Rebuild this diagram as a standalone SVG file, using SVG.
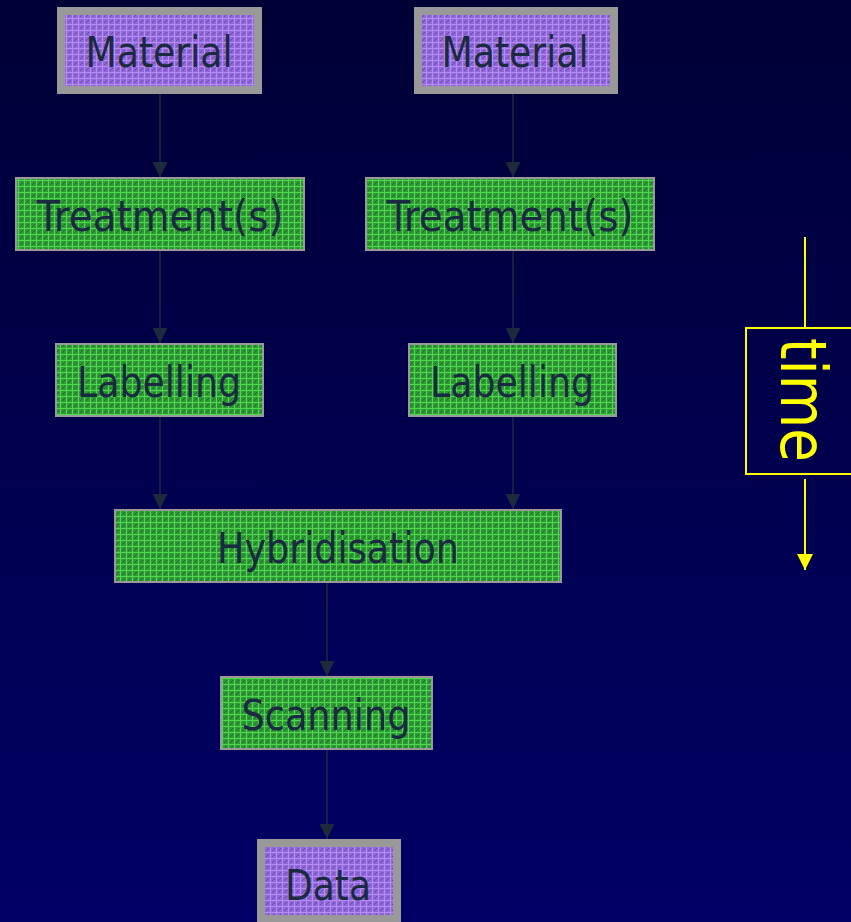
<svg xmlns="http://www.w3.org/2000/svg" width="851" height="922" viewBox="0 0 851 922">
<defs>
<linearGradient id="bg" x1="0" y1="0" x2="0" y2="1">
<stop offset="0" stop-color="#000036"/>
<stop offset="1" stop-color="#000066"/>
</linearGradient>
<pattern id="green" width="6" height="6" patternUnits="userSpaceOnUse">
<rect width="6" height="6" fill="#2f9a36"/>
<rect x="0" y="0" width="6" height="1" fill="#4fd84f"/>
<rect x="0" y="0" width="1" height="6" fill="#4fd84f"/>
<rect x="3" y="3" width="1" height="1" fill="#1f6a2a"/>
<rect x="2" y="4" width="1" height="1" fill="#1f6a2a"/>
<rect x="4" y="2" width="1" height="1" fill="#1f6a2a"/>
</pattern>
<pattern id="purple" width="6" height="6" patternUnits="userSpaceOnUse">
<rect width="6" height="6" fill="#9168d8"/>
<rect x="0" y="0" width="6" height="1" fill="#b58cf6"/>
<rect x="0" y="0" width="1" height="6" fill="#b58cf6"/>
<rect x="3" y="3" width="1" height="1" fill="#6a4aa8"/>
<rect x="2" y="4" width="1" height="1" fill="#6a4aa8"/>
<rect x="4" y="2" width="1" height="1" fill="#6a4aa8"/>
</pattern>
<marker id="ah" markerWidth="15" markerHeight="15" refX="15" refY="7.5" orient="auto" markerUnits="userSpaceOnUse">
<path d="M0,0 L15,7.5 L0,15 Z" fill="#1c2b3c"/>
</marker>
<marker id="yah" markerWidth="16" markerHeight="16" refX="16" refY="8" orient="auto" markerUnits="userSpaceOnUse">
<path d="M0,0 L16,8 L0,16 Z" fill="#ffff00"/>
</marker>
</defs>
<style>
.lbl{font-family:"DejaVu Sans Condensed","DejaVu Sans",sans-serif;font-size:42px;fill:#1a2a40;text-anchor:middle}
.pbox{fill:url(#purple);stroke:#999999;stroke-width:8}
.gbox{fill:url(#green);stroke:#999999;stroke-width:2}
.conn{stroke:#1c2b3c;stroke-width:1.5;fill:none;marker-end:url(#ah)}
.time{stroke:#ffff00;stroke-width:2;fill:none}
</style>
<rect width="851" height="922" fill="url(#bg)"/>

<g id="connectors">
<line class="conn" x1="160" y1="93" x2="160" y2="177"/>
<line class="conn" x1="513" y1="93" x2="513" y2="177"/>
<line class="conn" x1="160" y1="251" x2="160" y2="343"/>
<line class="conn" x1="513" y1="251" x2="513" y2="343"/>
<line class="conn" x1="160" y1="417" x2="160" y2="509"/>
<line class="conn" x1="513" y1="417" x2="513" y2="509"/>
<line class="conn" x1="327" y1="583" x2="327" y2="676"/>
<line class="conn" x1="327" y1="750" x2="327" y2="839"/>
</g>

<g id="material-left">
<rect class="pbox" x="61" y="11" width="197" height="79"/>
<text class="lbl" x="159" y="67" textLength="147" lengthAdjust="spacingAndGlyphs">Material</text>
</g>
<g id="material-right">
<rect class="pbox" x="418" y="11" width="196" height="79"/>
<text class="lbl" x="515" y="67" textLength="147" lengthAdjust="spacingAndGlyphs">Material</text>
</g>
<g id="treatment-left">
<rect class="gbox" x="16" y="178" width="288" height="72"/>
<text class="lbl" x="160" y="231" textLength="247" lengthAdjust="spacingAndGlyphs">Treatment(s)</text>
</g>
<g id="treatment-right">
<rect class="gbox" x="366" y="178" width="288" height="72"/>
<text class="lbl" x="510" y="231" textLength="247" lengthAdjust="spacingAndGlyphs">Treatment(s)</text>
</g>
<g id="labelling-left">
<rect class="gbox" x="56" y="344" width="207" height="72"/>
<text class="lbl" x="159" y="397" textLength="164" lengthAdjust="spacingAndGlyphs">Labelling</text>
</g>
<g id="labelling-right">
<rect class="gbox" x="409" y="344" width="207" height="72"/>
<text class="lbl" x="512" y="397" textLength="164" lengthAdjust="spacingAndGlyphs">Labelling</text>
</g>
<g id="hybridisation">
<rect class="gbox" x="115" y="510" width="446" height="72"/>
<text class="lbl" x="338" y="563" textLength="242" lengthAdjust="spacingAndGlyphs">Hybridisation</text>
</g>
<g id="scanning">
<rect class="gbox" x="221" y="677" width="211" height="72"/>
<text class="lbl" x="326" y="730" textLength="169" lengthAdjust="spacingAndGlyphs">Scanning</text>
</g>
<g id="data">
<rect class="pbox" x="261" y="843" width="136" height="76"/>
<text class="lbl" x="328" y="900" textLength="86" lengthAdjust="spacingAndGlyphs">Data</text>
</g>

<g id="time">
<line class="time" x1="805" y1="237" x2="805" y2="328"/>
<rect class="time" x="746" y="328" width="110" height="146"/>
<line class="time" x1="805" y1="479" x2="805" y2="570" marker-end="url(#yah)"/>
<text transform="translate(781,338) rotate(90)" font-family="'DejaVu Sans Condensed','DejaVu Sans',sans-serif" font-size="64" fill="#ffff00" textLength="124" lengthAdjust="spacingAndGlyphs">time</text>
</g>
</svg>
